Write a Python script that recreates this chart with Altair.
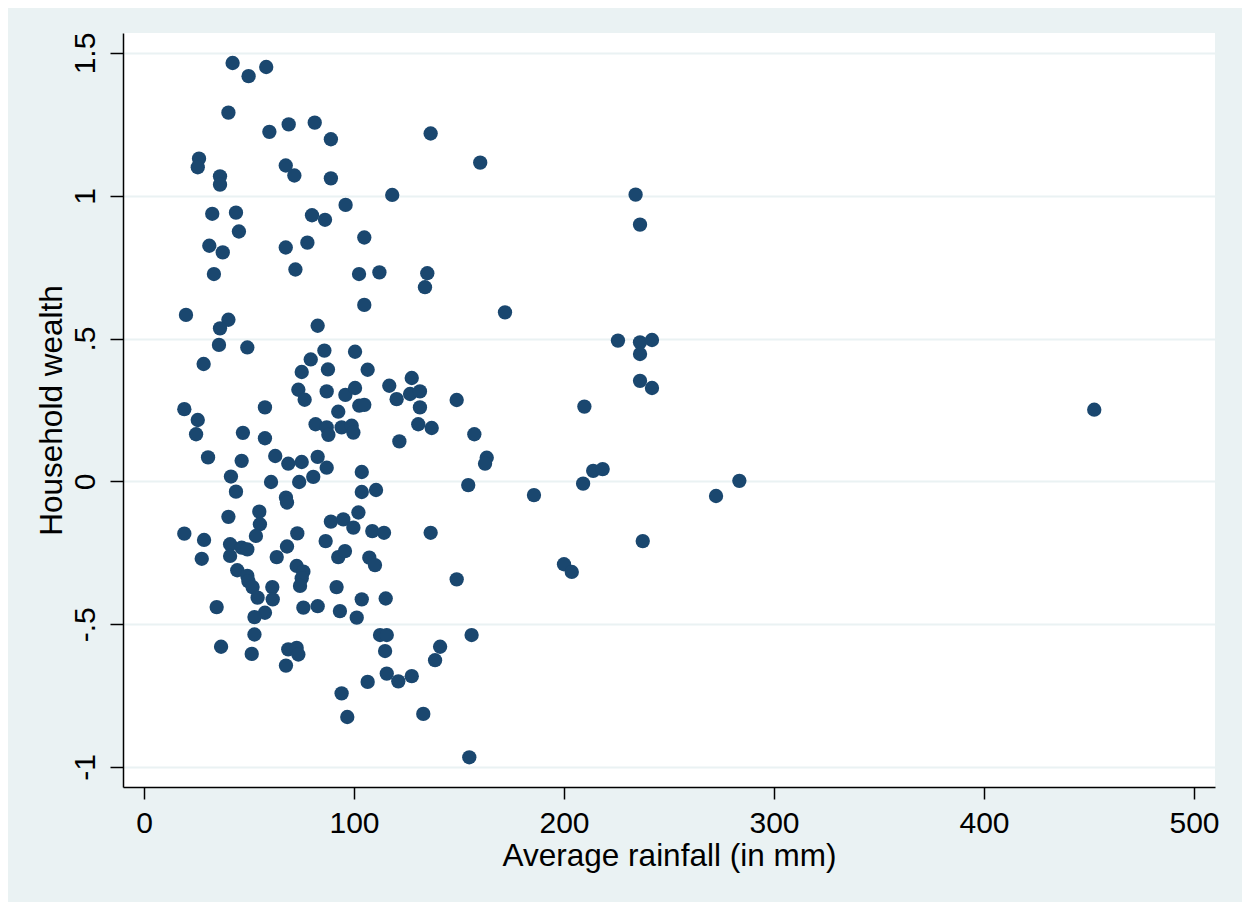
import altair as alt
import pandas as pd

rainfall = [
    42.2, 49.8, 58.2, 40.2, 59.7, 68.9, 81.3, 89.0, 26.2, 25.6,
    36.2, 36.2, 67.5, 71.6, 89.0, 32.5, 43.8, 45.2, 80.0, 86.2,
    96.0, 31.1, 37.5, 67.5, 77.8, 33.3, 72.1, 136.5, 160.1, 118.2,
    104.9, 102.4, 112.1, 134.9, 133.8, 104.9, 20.0, 40.2, 36.2, 35.7,
    49.2, 82.7, 28.4, 85.9, 100.5, 79.4, 87.6, 75.1, 73.5, 76.5,
    87.0, 95.9, 100.5, 102.5, 92.5, 81.7, 87.0, 87.8, 94.1, 98.9,
    99.7, 19.2, 25.6, 24.8, 57.6, 47.1, 57.6, 30.5, 46.5, 62.5,
    68.7, 75.1, 82.7, 87.0, 41.4, 43.8, 60.5, 73.9, 80.6, 67.6,
    103.7, 103.7, 110.5, 171.9, 106.5, 127.5, 116.8, 120.3, 126.7, 131.4,
    148.9, 104.9, 131.4, 130.6, 137.0, 121.6, 157.3, 163.2, 162.4, 154.4,
    185.7, 225.7, 236.2, 241.9, 236.2, 236.2, 241.9, 209.7, 213.9, 218.4,
    209.1, 237.5, 200.0, 203.7, 234.1, 236.2, 272.4, 452.5, 283.5, 19.2,
    28.6, 27.5, 40.2, 41.0, 41.0, 46.5, 49.2, 54.9, 55.2, 53.3,
    44.4, 49.2, 49.7, 51.7, 54.1, 61.1, 61.3, 57.6, 52.6, 52.6,
    34.6, 36.7, 51.3, 68.1, 73.0, 63.2, 68.1, 72.7, 75.9, 75.1,
    74.3, 75.9, 82.7, 91.7, 93.3, 86.5, 89.0, 94.9, 99.7, 92.5,
    95.7, 102.1, 101.3, 67.6, 68.7, 72.7, 73.5, 94.1, 108.7, 114.3,
    136.5, 107.3, 110.0, 148.9, 103.7, 115.1, 112.4, 115.6, 156.0, 114.8,
    141.0, 138.6, 115.6, 121.1, 127.5, 106.5, 96.8, 133.0, 154.9,
]

wealth = [
    1.465, 1.419, 1.451, 1.291, 1.224, 1.250, 1.256, 1.198, 1.130, 1.100,
    1.068, 1.039, 1.106, 1.071, 1.061, 0.937, 0.941, 0.875, 0.932, 0.916,
    0.968, 0.825, 0.802, 0.819, 0.836, 0.726, 0.742, 1.218, 1.116, 1.003,
    0.854, 0.726, 0.732, 0.729, 0.680, 0.618, 0.583, 0.566, 0.536, 0.478,
    0.469, 0.545, 0.411, 0.458, 0.454, 0.427, 0.392, 0.383, 0.321, 0.286,
    0.315, 0.303, 0.327, 0.265, 0.244, 0.200, 0.189, 0.163, 0.189, 0.195,
    0.171, 0.253, 0.215, 0.165, 0.259, 0.170, 0.151, 0.084, 0.072, 0.089,
    0.062, 0.068, 0.086, 0.048, 0.017, -0.036, -0.002, -0.002, 0.016, -0.057,
    0.033, -0.037, -0.030, 0.592, 0.391, 0.362, 0.335, 0.288, 0.306, 0.315,
    0.285, 0.268, 0.259, 0.200, 0.187, 0.140, 0.165, 0.083, 0.062, -0.013,
    -0.048, 0.493, 0.487, 0.495, 0.446, 0.352, 0.327, 0.262, 0.037, 0.043,
    -0.008, -0.209, -0.290, -0.317, 1.004, 0.899, -0.051, 0.251, 0.002, -0.183,
    -0.205, -0.271, -0.124, -0.220, -0.261, -0.232, -0.238, -0.106, -0.150, -0.191,
    -0.311, -0.331, -0.349, -0.370, -0.407, -0.370, -0.413, -0.460, -0.475, -0.536,
    -0.440, -0.579, -0.604, -0.074, -0.182, -0.265, -0.228, -0.296, -0.316, -0.339,
    -0.366, -0.442, -0.437, -0.370, -0.454, -0.209, -0.141, -0.133, -0.162, -0.265,
    -0.244, -0.109, -0.477, -0.645, -0.588, -0.583, -0.606, -0.742, -0.174, -0.180,
    -0.180, -0.267, -0.293, -0.343, -0.413, -0.410, -0.538, -0.538, -0.538, -0.594,
    -0.579, -0.626, -0.673, -0.700, -0.682, -0.702, -0.825, -0.814, -0.966,
]

x_ticks = [0, 100, 200, 300, 400, 500]
y_ticks = [-1, -0.5, 0, 0.5, 1, 1.5]

df = pd.DataFrame({"rain": rainfall, "wealth": wealth})

FONT = "Liberation Sans"
BG = "#EAF2F3"

ylabel_expr = (
    "datum.value == 1.5 ? '1.5' : datum.value == 1 ? '1' : "
    "datum.value == 0.5 ? '.5' : datum.value == 0 ? '0' : "
    "datum.value == -0.5 ? '-.5' : '-1'"
)

chart = (
    alt.Chart(df)
    .mark_circle(size=205, opacity=1, color="#1A476F")
    .encode(
        x=alt.X(
            "rain:Q",
            scale=alt.Scale(domain=[-10, 510], nice=False, zero=False),
            axis=alt.Axis(
                values=x_ticks,
                title="Average rainfall (in mm)",
                grid=False,
                domainColor="black",
                domainWidth=1.5,
                tickColor="black",
                tickWidth=1.5,
                tickSize=12,
                labelFont=FONT,
                labelFontSize=30,
                labelColor="black",
                labelPadding=9,
                labelFlush=False,
                titleFont=FONT,
                titleFontSize=31.5,
                titleFontWeight="normal",
                titleColor="black",
                titleX=546,
                titleY=78,
                titleAlign="center",
                titleBaseline="alphabetic",
            ),
        ),
        y=alt.Y(
            "wealth:Q",
            scale=alt.Scale(domain=[-1.07, 1.57], nice=False, zero=False),
            axis=alt.Axis(
                values=y_ticks,
                labelExpr=ylabel_expr,
                title="Household wealth",
                grid=True,
                gridColor=BG,
                gridWidth=2,
                domainColor="black",
                domainWidth=1.5,
                tickColor="black",
                tickWidth=1.5,
                tickSize=13,
                labelFont=FONT,
                labelFontSize=30,
                labelColor="black",
                labelAngle=270,
                labelAlign="center",
                labelBaseline="bottom",
                labelPadding=10,
                labelFlush=False,
                titleFont=FONT,
                titleFontSize=31.5,
                titleFontWeight="normal",
                titleColor="black",
                titleAngle=270,
                titleX=-62,
                titleY=377,
                titleAlign="center",
                titleBaseline="alphabetic",
            ),
        ),
    )
    .properties(
        width=1092,
        height=754,
        autosize=alt.AutoSizeParams(type="none"),
        padding={"left": 115, "top": 25, "right": 27, "bottom": 115},
        background=BG,
    )
    .configure_view(fill="white", stroke=None)
)

chart.save("out.html", embed_options={"renderer": "svg", "actions": False})
